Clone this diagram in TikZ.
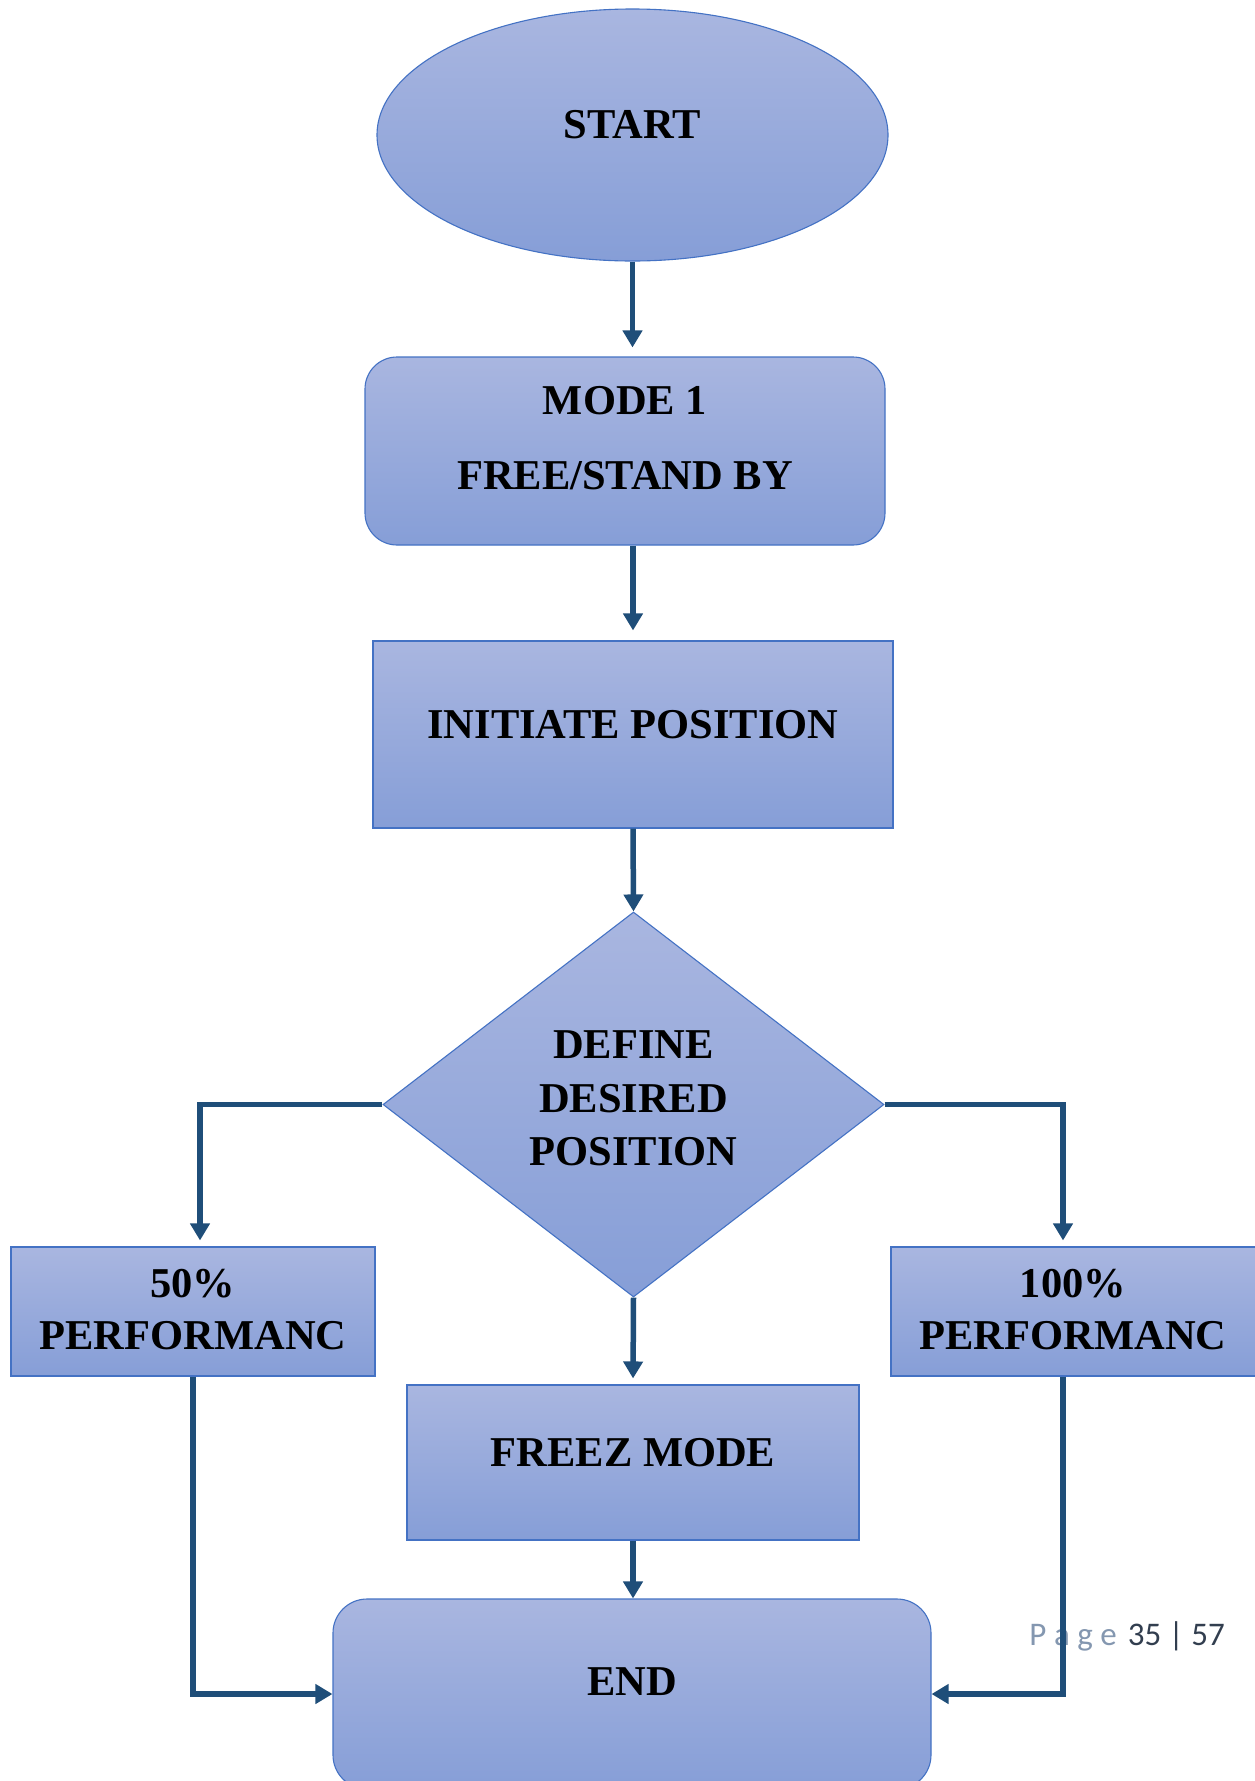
\documentclass[tikz,border=0pt]{standalone}
\usepackage{fontspec}
\setmainfont{Liberation Serif}
\newfontfamily\pagefont{Carlito}
\usetikzlibrary{shapes.geometric,arrows.meta}
\definecolor{arrowc}{HTML}{1F4E79}
\definecolor{edgec}{HTML}{4472C4}
\definecolor{topc}{HTML}{A9B6E0}
\definecolor{botc}{HTML}{869ED7}
\definecolor{pagel}{HTML}{8497B0}
\definecolor{paged}{HTML}{323E4F}
\begin{document}
\begin{tikzpicture}[x=1pt,y=-1pt,
  flowshape/.style={draw=edgec,line width=1.1pt,top color=topc,bottom color=botc,inner sep=0pt},
  lbl/.style={font=\fontsize{42.5}{53}\selectfont\bfseries,align=center,inner sep=0pt,text=black},
  conn/.style={draw=arrowc,line width=5.5pt,-{Triangle[width=19pt,length=17pt]}}]
\fill[white] (0,0) rectangle (1254,1781);
\useasboundingbox (0,0) rectangle (1254,1781);

% shapes
\node[flowshape,ellipse,minimum width=511pt,minimum height=252pt] (start) at (632.5,135) {};
\node[flowshape,rectangle,rounded corners=32pt,minimum width=520pt,minimum height=188pt] (mode1) at (625,451) {};
\node[flowshape,rectangle,minimum width=520pt,minimum height=187pt] (init) at (633,734.5) {};
\node[flowshape,diamond,minimum width=501pt,minimum height=385pt] (dec) at (633.5,1104.5) {};
\node[flowshape,rectangle,minimum width=364pt,minimum height=129pt] (p50) at (193,1311.5) {};
\node[flowshape,rectangle,minimum width=366pt,minimum height=129pt] (p100) at (1074,1311.5) {};
\node[flowshape,rectangle,minimum width=452pt,minimum height=155pt] (freez) at (633,1462.5) {};
\node[flowshape,rectangle,rounded corners=34pt,minimum width=598pt,minimum height=190pt] (end) at (632,1694) {};

% texts
\node[lbl] (startt) at ([yshift=10pt]start.center) {START};
\node[lbl,font=\fontsize{42.5}{75}\selectfont\bfseries] (mode1t) at ([yshift=12.5pt]mode1.center) {MODE 1\\FREE/STAND BY};
\node[lbl] (initt) at ([yshift=9.5pt]init.center) {INITIATE POSITION};
\node[lbl,font=\fontsize{42.5}{53.5}\selectfont\bfseries] (dect) at ([yshift=6pt]dec.center) {DEFINE\\DESIRED\\POSITION};
\node[lbl,font=\fontsize{42.5}{52}\selectfont\bfseries] (p50t) at ([yshift=1.5pt]p50.center) {50\%\\PERFORMANC};
\node[lbl,font=\fontsize{42.5}{52}\selectfont\bfseries] (p100t) at ([xshift=-1pt,yshift=1.5pt]p100.center) {100\%\\PERFORMANC};
\node[lbl] (freezt) at ([yshift=9.5pt]freez.center) {FREEZ MODE};
\node[lbl] (endt) at ([yshift=12pt]end.center) {END};

% page number
\node[anchor=base east,inner sep=0pt,font=\pagefont\fontsize{33}{40}\selectfont] (pagenum) at (1225,1645)
  {\textcolor{pagel}{P\kern7.5pt a\kern7.5pt g\kern7.5pt e}\kern11pt\textcolor{paged}{35 | 57}};

% connectors
\draw[conn,shorten >=9pt] (start.south) -- (start.south |- mode1.north);
\draw[conn,shorten >=10pt] (init.north |- mode1.south) -- (init.north);
\draw[conn] (init.south) -- (dec.north);
\draw[conn,shorten >=6pt] (dec.west) -| ([xshift=7pt]p50.north);
\draw[conn,shorten >=6pt] (dec.east) -| ([xshift=-11pt]p100.north);
\draw[conn,shorten >=6pt] (dec.south) -- (freez.north);
\draw[conn] (freez.south) -- (freez.south |- end.north);
\draw[conn] (p50.south) |- (end.west);
\draw[conn] ([xshift=-11pt]p100.south) |- (end.east);
\end{tikzpicture}
\end{document}
